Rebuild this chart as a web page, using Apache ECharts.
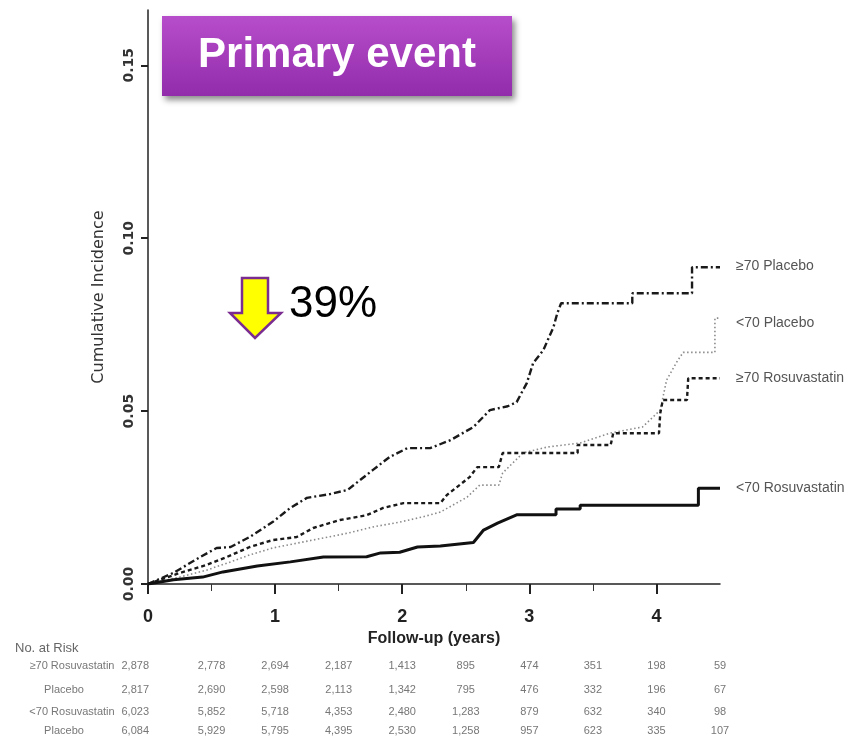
<!DOCTYPE html>
<html>
<head>
<meta charset="utf-8">
<script src="https://cdn.jsdelivr.net/npm/echarts@6/dist/echarts.min.js"></script>
<style>
html, body { margin: 0; padding: 0; background: #fff; }
#chart { width: 856px; height: 742px; }
</style>
</head>
<body>
<div id="chart"></div>
<script>
// curves: [years, cumulative incidence]
const over70Placebo = [[0,0],[0.2,0.0032],[0.41,0.0078],[0.54,0.0104],[0.65,0.0107],[0.8,0.0136],[0.98,0.0179],[1.12,0.022],[1.25,0.0249],[1.43,0.026],[1.57,0.0272],[1.77,0.033],[1.9,0.0367],[2.04,0.0393],[2.22,0.0393],[2.38,0.0416],[2.56,0.0454],[2.69,0.0503],[2.83,0.0514],[2.9,0.0526],[2.98,0.0581],[3.03,0.0639],[3.11,0.0676],[3.19,0.0743],[3.22,0.0783],[3.25,0.0812],[3.81,0.0812],[3.81,0.0841],[4.28,0.0841],[4.28,0.0916],[4.5,0.0916]];
const under70Placebo = [[0,0],[0.25,0.002],[0.46,0.004],[0.65,0.0064],[0.8,0.0084],[0.98,0.0104],[1.17,0.0118],[1.38,0.0133],[1.57,0.0147],[1.77,0.0165],[1.98,0.0179],[2.16,0.0194],[2.3,0.0208],[2.51,0.0251],[2.61,0.0286],[2.76,0.0286],[2.79,0.0321],[2.95,0.0379],[3.14,0.0396],[3.4,0.0408],[3.63,0.0436],[3.89,0.0454],[4.03,0.0503],[4.08,0.059],[4.16,0.0642],[4.21,0.067],[4.46,0.067],[4.46,0.0769],[4.5,0.0769]];
const over70Rosu = [[0,0],[0.25,0.0032],[0.46,0.0055],[0.62,0.0078],[0.8,0.0107],[0.98,0.0127],[1.17,0.0136],[1.3,0.0162],[1.51,0.0185],[1.72,0.0199],[1.85,0.022],[2.01,0.0234],[2.3,0.0234],[2.35,0.0257],[2.53,0.0309],[2.59,0.0338],[2.76,0.0338],[2.79,0.0379],[3.38,0.0379],[3.38,0.0402],[3.64,0.0402],[3.66,0.0436],[4.02,0.0436],[4.03,0.0494],[4.05,0.0532],[4.24,0.0532],[4.25,0.0595],[4.5,0.0595]];
const under70Rosu = [[0,0],[0.2,0.0012],[0.43,0.002],[0.59,0.0035],[0.86,0.0052],[1.12,0.0064],[1.38,0.0078],[1.72,0.0079],[1.83,0.009],[1.98,0.0092],[2.12,0.0107],[2.3,0.011],[2.56,0.012],[2.64,0.0156],[2.75,0.0176],[2.9,0.02],[3.21,0.02],[3.21,0.0217],[3.4,0.0217],[3.4,0.0228],[4.33,0.0228],[4.33,0.0277],[4.5,0.0277]];

const seriesNames = ['≥70 Placebo', '<70 Placebo', '≥70 Rosuvastatin', '<70 Rosuvastatin'];
const xTicks = [0, 1, 2, 3, 4];
const xMinorTicks = [0.5, 1.5, 2.5, 3.5];
const yTicks = [0, 0.05, 0.10, 0.15];

// number at risk table
const riskTimes = [0, 0.5, 1, 1.5, 2, 2.5, 3, 3.5, 4, 4.5];
const riskLabels = ['≥70 Rosuvastatin', 'Placebo', '<70 Rosuvastatin', 'Placebo'];
const riskOver70Rosu = ['2,878', '2,778', '2,694', '2,187', '1,413', '895', '474', '351', '198', '59'];
const riskOver70Placebo = ['2,817', '2,690', '2,598', '2,113', '1,342', '795', '476', '332', '196', '67'];
const riskUnder70Rosu = ['6,023', '5,852', '5,718', '4,353', '2,480', '1,283', '879', '632', '340', '98'];
const riskUnder70Placebo = ['6,084', '5,929', '5,795', '4,395', '2,530', '1,258', '957', '623', '335', '107'];

const sans = '"Liberation Sans", Arial, sans-serif';

var chartDom = document.getElementById('chart');
var myChart = echarts.init(chartDom);

function curve(name, data, lineStyle, z, labelOffset) {
	return {
		name: name,
		type: 'line',
		data: data,
		symbol: 'none',
		z: z,
		lineStyle: lineStyle,
		endLabel: {
			show: true,
			formatter: '{a}',
			distance: 16,
			offset: labelOffset,
			color: '#555',
			fontFamily: sans,
			fontSize: 14,
		},
		emphasis: { disabled: true },
	};
}

var option = {
	animation: false,
	backgroundColor: '#fff',
	grid: { left: 148, right: 136, top: 10, bottom: 158 },
	xAxis: [
		{
			type: 'value',
			min: 0,
			max: 4.5,
			interval: 1,
			name: 'Follow-up (years)',
			nameLocation: 'middle',
			nameGap: 46,
			nameTextStyle: { fontFamily: sans, fontWeight: 'bold', fontSize: 16, color: '#222' },
			axisLine: { lineStyle: { color: '#222', width: 1.5 } },
			axisTick: { customValues: xTicks, length: 10, lineStyle: { color: '#222', width: 2 } },
			axisLabel: { customValues: xTicks, margin: 24, fontFamily: sans, fontWeight: 'bold', fontSize: 18, color: '#222' },
			splitLine: { show: false },
		},
		{
			type: 'value',
			min: 0,
			max: 4.5,
			position: 'bottom',
			axisLine: { show: false },
			axisTick: { customValues: xMinorTicks, length: 7, lineStyle: { color: '#333', width: 1 } },
			axisLabel: { show: false },
			splitLine: { show: false },
		},
	],
	yAxis: {
		type: 'value',
		min: 0,
		max: 0.166,
		interval: 0.05,
		name: 'Cumulative Incidence',
		nameLocation: 'middle',
		nameGap: 41,
		nameTextStyle: { fontFamily: 'DejaVu Sans', fontSize: 16, color: '#333' },
		axisLine: { lineStyle: { color: '#222', width: 1.5 } },
		axisTick: { customValues: yTicks, length: 7, lineStyle: { color: '#222', width: 2 } },
		axisLabel: {
			customValues: yTicks,
			rotate: 90,
			margin: 12,
			fontFamily: 'DejaVu Sans',
			fontWeight: 'bold',
			fontSize: 14,
			color: '#333',
			formatter: (v) => v.toFixed(2),
		},
		splitLine: { show: false },
	},
	series: [
		curve(seriesNames[1], under70Placebo, { color: '#8a8a8a', width: 1.6, type: [1.5, 2.5] }, 2, [0, 5]),
		curve(seriesNames[2], over70Rosu, { color: '#1a1a1a', width: 2.4, type: [4, 3] }, 3, [0, 0]),
		curve(seriesNames[0], over70Placebo, { color: '#1a1a1a', width: 2.4, type: [7, 3, 2, 3] }, 4, [0, -1]),
		curve(seriesNames[3], under70Rosu, { color: '#111', width: 3 }, 5, [0, 0]),
	],
};
option && myChart.setOption(option);

// annotations and number-at-risk table
let graphics = [
	{
		type: 'rect',
		shape: { x: 162, y: 16, width: 350, height: 80 },
		style: {
			fill: new echarts.graphic.LinearGradient(0, 0, 0, 1, [
				{ offset: 0, color: '#b74dca' },
				{ offset: 1, color: '#922cab' },
			]),
			shadowBlur: 6,
			shadowOffsetX: 3,
			shadowOffsetY: 4,
			shadowColor: 'rgba(0,0,0,0.45)',
		},
		z: 10,
	},
	{
		type: 'text',
		x: 337,
		y: 55,
		style: {
			text: 'Primary event',
			fill: '#fff',
			font: 'bold 42px ' + sans,
			textAlign: 'center',
			textVerticalAlign: 'middle',
			shadowBlur: 3,
			shadowOffsetX: 2,
			shadowOffsetY: 3,
			shadowColor: 'rgba(60,0,80,0.6)',
		},
		z: 11,
	},
	{
		type: 'polygon',
		shape: { points: [[242, 278], [268, 278], [268, 313], [281, 313], [255, 338], [230, 313], [242, 313]] },
		style: { fill: '#ffff00', stroke: '#7b2c91', lineWidth: 2.5, lineJoin: 'miter' },
		z: 10,
	},
	{
		type: 'text',
		x: 289,
		y: 305,
		style: {
			text: '39%',
			fill: '#000',
			font: '44px ' + sans,
			textVerticalAlign: 'middle',
		},
		z: 10,
	},
	{
		type: 'text',
		x: 15,
		y: 648,
		style: { text: 'No. at Risk', fill: '#666', font: '13px ' + sans, textVerticalAlign: 'middle' },
	},
];

const riskRows = [riskOver70Rosu, riskOver70Placebo, riskUnder70Rosu, riskUnder70Placebo];
const rowY = [666, 690, 712, 731];
const labelX = [72, 64, 72, 64];
riskRows.forEach((row, r) => {
	graphics.push({
		type: 'text',
		x: labelX[r],
		y: rowY[r],
		style: { text: riskLabels[r], fill: '#777', font: '11px ' + sans, textAlign: 'center', textVerticalAlign: 'middle' },
	});
	row.forEach((n, i) => {
		let x = myChart.convertToPixel({ xAxisIndex: 0 }, riskTimes[i]);
		graphics.push({
			type: 'text',
			x: i === 0 ? x + 1 : x,
			y: rowY[r],
			style: {
				text: n,
				fill: '#777',
				font: '11px ' + sans,
				textAlign: i === 0 ? 'right' : 'center',
				textVerticalAlign: 'middle',
			},
		});
	});
});

myChart.setOption({ graphic: graphics });
</script>
</body>
</html>
